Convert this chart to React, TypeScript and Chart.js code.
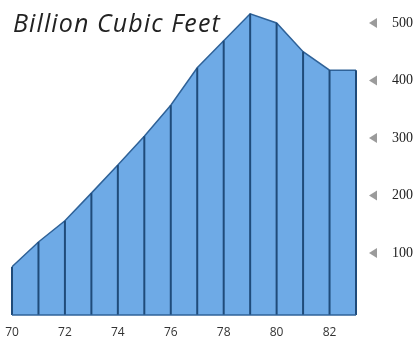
import { useEffect, useRef } from "react";
import { Chart, registerables } from "chart.js";

Chart.register(...registerables);

// Annual volume, 1970–1983 (billion cubic feet)
const years = [70, 71, 72, 73, 74, 75, 76, 77, 78, 79, 80, 81, 82, 83];
const volumes = [76, 119, 156, 204, 253, 303, 357, 422, 469, 516, 500, 450, 418, 418];

const yearTicks = [70, 72, 74, 76, 78, 80, 82];
const volumeTicks = [100, 200, 300, 400, 500];
const unitLabel = "Billion Cubic Feet";

const FILL = "#6eaae6";
const EDGE = "#2f6298";
const RULE = "#1f4b7a";
const MARKER = "#9b9b9b";

// Dark vertical rule under every yearly point, plus the baseline edge
const yearRules = {
  id: "yearRules",
  afterDatasetsDraw(chart: any) {
    const { ctx, chartArea } = chart;
    const meta = chart.getDatasetMeta(0);
    const pts = meta.data;
    ctx.save();
    ctx.strokeStyle = RULE;
    ctx.lineWidth = 2;
    pts.forEach((p: any) => {
      ctx.beginPath();
      ctx.moveTo(p.x, p.y);
      ctx.lineTo(p.x, chartArea.bottom);
      ctx.stroke();
    });
    ctx.strokeStyle = EDGE;
    ctx.lineWidth = 1.5;
    ctx.beginPath();
    ctx.moveTo(pts[0].x, chartArea.bottom);
    ctx.lineTo(pts[pts.length - 1].x, chartArea.bottom);
    ctx.stroke();
    ctx.restore();
  },
};

// Grey pointer triangles beside the right-hand value labels
const tickPointers = {
  id: "tickPointers",
  afterDraw(chart: any) {
    const { ctx, chartArea } = chart;
    const y = chart.scales.y;
    ctx.save();
    ctx.fillStyle = MARKER;
    volumeTicks.forEach((v) => {
      const py = y.getPixelForValue(v);
      const tip = chartArea.right + 13;
      ctx.beginPath();
      ctx.moveTo(tip, py);
      ctx.lineTo(tip + 8, py - 5);
      ctx.lineTo(tip + 8, py + 5);
      ctx.closePath();
      ctx.fill();
    });
    ctx.restore();
  },
};

export default function App() {
  const canvasRef = useRef<HTMLCanvasElement | null>(null);

  useEffect(() => {
    if (!canvasRef.current) return;
    const chart = new Chart(canvasRef.current, {
      type: "line",
      data: {
        datasets: [
          {
            data: years.map((x, i) => ({ x, y: volumes[i] })),
            fill: "start",
            backgroundColor: FILL,
            borderColor: EDGE,
            borderWidth: 1.5,
            pointRadius: 0,
            tension: 0,
          },
        ],
      },
      options: {
        animation: false,
        responsive: false,
        events: [],
        layout: { padding: { left: 12, top: 0, right: 0, bottom: 0 } },
        plugins: {
          legend: { display: false },
          tooltip: { enabled: false },
          title: { display: false },
        },
        scales: {
          x: {
            type: "linear",
            min: 70,
            max: 83,
            grid: { display: false, drawTicks: false },
            border: { display: false },
            afterBuildTicks: (s: any) => {
              s.ticks = yearTicks.map((value) => ({ value }));
            },
            afterFit: (s: any) => {
              s.height = 24;
              s.paddingLeft = 0;
              s.paddingRight = 0;
            },
            ticks: {
              autoSkip: false,
              maxRotation: 0,
              padding: 10,
              color: "#333",
              font: { family: "Open Sans", size: 12 },
              callback: (v: any) => String(v),
            },
          },
          y: {
            position: "right",
            min: -8,
            max: 540,
            grid: { display: false, drawTicks: false },
            border: { display: false },
            afterBuildTicks: (s: any) => {
              s.ticks = volumeTicks.map((value) => ({ value }));
            },
            afterFit: (s: any) => {
              s.width = 63;
              s.paddingTop = 0;
              s.paddingBottom = 0;
            },
            ticks: {
              padding: 36,
              color: "#222",
              font: { family: "Liberation Serif", size: 14 },
              callback: (v: any) => String(v),
            },
          },
        },
      },
      plugins: [yearRules, tickPointers],
    });
    return () => chart.destroy();
  }, []);

  return (
    <div
      style={{
        position: "fixed",
        left: 0,
        top: 0,
        width: 419,
        height: 339,
        background: "#fff",
      }}
    >
      <canvas ref={canvasRef} width={419} height={339} style={{ display: "block" }} />
      <div
        style={{
          position: "absolute",
          left: 13,
          top: 10,
          fontFamily: "'Open Sans', sans-serif",
          fontStyle: "italic",
          fontSize: 25,
          lineHeight: "25px",
          letterSpacing: 1.1,
          color: "#222",
          whiteSpace: "nowrap",
        }}
      >
        {unitLabel}
      </div>
    </div>
  );
}
